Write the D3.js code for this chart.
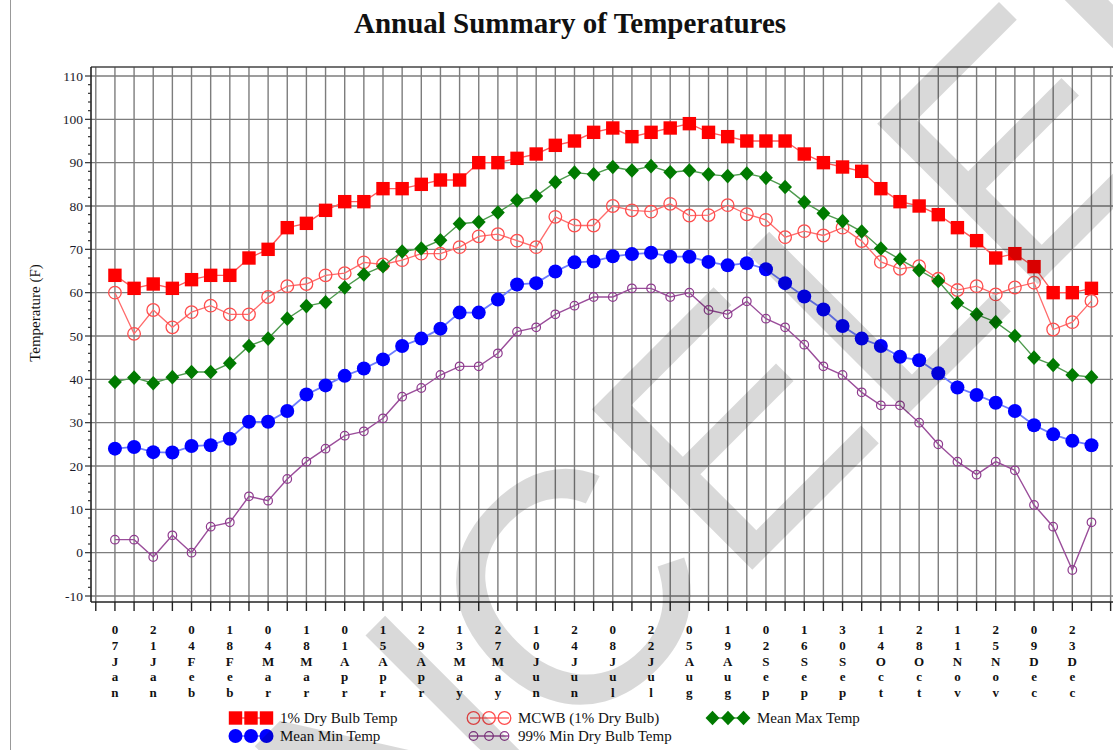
<!DOCTYPE html>
<html><head><meta charset="utf-8">
<script src="https://cdn.jsdelivr.net/npm/d3@7"></script>
<style>body{margin:0;background:#fff} svg{display:block}</style>
</head><body><svg id="c" width="1113" height="750"></svg>
<script>
// ---- data ----
const weeks = ["07Jan","14Jan","21Jan","28Jan","04Feb","11Feb","18Feb","25Feb","04Mar","11Mar","18Mar","25Mar",
  "01Apr","08Apr","15Apr","22Apr","29Apr","06May","13May","20May","27May","03Jun","10Jun","17Jun","24Jun","01Jul",
  "08Jul","15Jul","22Jul","29Jul","05Aug","12Aug","19Aug","26Aug","02Sep","09Sep","16Sep","23Sep","30Sep","07Oct",
  "14Oct","21Oct","28Oct","04Nov","11Nov","18Nov","25Nov","02Dec","09Dec","16Dec","23Dec","30Dec"];
const yTicks = [-10,0,10,20,30,40,50,60,70,80,90,100,110];
const dryBulb1 = [64,61,62,61,63,64,64,68,70,75,76,79,81,81,84,84,85,86,86,90,90,91,92,94,95,97,98,96,97,98,99,97,96,95,95,95,92,90,89,88,84,81,80,78,75,72,68,69,66,60,60,61];
const mcwb = [60,50.5,56,52,55.5,57,55,55,59,61.5,62,64,64.5,67,66.5,67.5,69,69,70.5,73,73.5,72,70.5,77.5,75.5,75.5,80,79,78.7,80.5,77.8,77.9,80.2,78.1,76.8,72.8,74.2,73.2,75,71.9,67.1,65.5,66.1,63.2,60.6,61.5,59.6,61.2,62.3,51.5,53.2,58.1];
const meanMax = [39.4,40.4,39.1,40.5,41.7,41.7,43.7,47.7,49.4,54,56.9,57.8,61.2,64.2,66.1,69.5,70.2,72.1,75.9,76.3,78.5,81.3,82.3,85.5,87.7,87.3,89,88.2,89.2,87.8,88.2,87.3,86.9,87.5,86.5,84.4,80.9,78.3,76.5,74.1,70.2,67.7,65.2,62.7,57.6,55,53.2,50,45,43.3,41,40.5];
const meanMin = [24,24.4,23.2,23.1,24.6,24.8,26.3,30.2,30.2,32.7,36.5,38.6,40.8,42.5,44.6,47.7,49.4,51.7,55.4,55.4,58.4,61.9,62.2,64.9,67,67.2,68.4,68.9,69.2,68.3,68.3,67.1,66.3,66.8,65.4,62.2,59.1,56.1,52.3,49.4,47.7,45.2,44.4,41.4,38.1,36.4,34.6,32.7,29.4,27.3,25.8,24.8];
const minDryBulb99 = [3,3,-1,4,0,6,7,13,12,17,21,24,27,28,31,36,38,41,43,43,46,51,52,55,57,59,59,61,61,59,60,56,55,58,54,52,48,43,41,37,34,34,30,25,21,18,21,19,11,6,-4,7];
const seriesNames = ["1% Dry Bulb Temp","MCWB (1% Dry Bulb)","Mean Max Temp","Mean Min Temp","99% Min Dry Bulb Temp"];
const titleText = "Annual Summary of Temperatures";
const yTitle = "Temperature (F)";
const watermark = "CANCELED";

// ---- layout ----
const svg = d3.select("#c");
const L = 91, T = 67, B = 602, R = 1113;
const x = d3.scalePoint().domain(weeks).range([91, 1115.4]).padding(1.25);
const y = d3.scaleLinear().domain([-10, 110]).range([596, 76]);
const step = x.step();
const tickPos = [x(weeks[0]) - step, ...weeks.map(w => x(w)), x(weeks[weeks.length-1]) + step];
const serif = "'Liberation Serif','Times New Roman',serif";

// page border
svg.append("line").attr("x1",10.5).attr("x2",10.5).attr("y1",0).attr("y2",750).attr("stroke","#999").attr("stroke-width",1);

// title
svg.append("text").attr("x",570).attr("y",33).attr("text-anchor","middle")
  .attr("font-family",serif).attr("font-weight","bold").attr("font-size",29).attr("fill","#111").text(titleText);

// grid
const grid = svg.append("g").attr("stroke","#7d7d7d").attr("stroke-width",1.4);
grid.selectAll("line.v").data(tickPos).join("line").attr("class","v")
  .attr("x1",d=>d).attr("x2",d=>d).attr("y1",T).attr("y2",B);
grid.selectAll("line.h").data(yTicks).join("line").attr("class","h")
  .attr("x1",L).attr("x2",R).attr("y1",d=>y(d)).attr("y2",d=>y(d));

// frame
svg.append("line").attr("x1",L).attr("x2",R).attr("y1",T).attr("y2",T).attr("stroke","#444").attr("stroke-width",1.5);
svg.append("line").attr("x1",L).attr("x2",R).attr("y1",B).attr("y2",B).attr("stroke","#222").attr("stroke-width",1.6);
svg.append("line").attr("x1",L).attr("x2",L).attr("y1",T).attr("y2",B).attr("stroke","#222").attr("stroke-width",1.6);

// y axis ticks
const minor = d3.range(-10, 111, 2);
svg.append("g").attr("stroke","#333").attr("stroke-width",1.2).selectAll("line").data(minor).join("line")
  .attr("x1",d=> d%10===0 ? L-6 : L-3).attr("x2",L).attr("y1",d=>y(d)).attr("y2",d=>y(d));
svg.append("g").selectAll("text").data(yTicks).join("text")
  .attr("x",L-8).attr("y",d=>y(d)).attr("dy","0.35em").attr("text-anchor","end")
  .attr("font-family",serif).attr("font-size",13.5).attr("fill","#1a1a2a").text(d=>d);
svg.append("text").attr("transform","translate(40,313) rotate(-90)").attr("text-anchor","middle")
  .attr("font-family",serif).attr("font-size",15).attr("fill","#111").text(yTitle);

// x axis ticks + stacked labels
svg.append("g").attr("stroke","#222").attr("stroke-width",1.4).selectAll("line").data(tickPos).join("line")
  .attr("x1",d=>d).attr("x2",d=>d).attr("y1",B).attr("y2",611);
const xl = svg.append("g").attr("font-family",serif).attr("font-weight","bold").attr("font-size",13).attr("fill","#111").attr("text-anchor","middle");
weeks.forEach((w,i)=>{
  if (i%2!==0) return;
  const t = xl.append("text").attr("x",x(w)).attr("y",634);
  w.split("").forEach((ch,k)=> t.append("tspan").attr("x",x(w)).attr("y",634+15.8*k).text(ch));
});

// series
const sq = 13.4, dia = 7.3;
const diamondPath = (cx,cy)=>`M${cx},${cy-dia}L${cx+dia*0.95},${cy}L${cx},${cy+dia}L${cx-dia*0.95},${cy}Z`;
const line = d3.line().x((d,i)=>x(weeks[i])).y(d=>y(d));
const g = svg.append("g");
function drawLine(data,color,w){ g.append("path").datum(data).attr("d",line).attr("fill","none").attr("stroke",color).attr("stroke-width",w); }

// 1% dry bulb
drawLine(dryBulb1,"#ff5a5a",1.4);
g.append("g").selectAll("rect").data(dryBulb1).join("rect")
  .attr("x",(d,i)=>x(weeks[i])-sq/2).attr("y",d=>y(d)-sq/2).attr("width",sq).attr("height",sq).attr("fill","#ff0000");
// MCWB
drawLine(mcwb,"#ff6b6b",1.3);
g.append("g").selectAll("circle").data(mcwb).join("circle")
  .attr("cx",(d,i)=>x(weeks[i])).attr("cy",d=>y(d)).attr("r",6.3).attr("fill","none").attr("stroke","#ff4d4d").attr("stroke-width",1.3);
// mean max
drawLine(meanMax,"#4d9a4d",1.4);
g.append("g").selectAll("path").data(meanMax).join("path")
  .attr("d",(d,i)=>diamondPath(x(weeks[i]),y(d))).attr("fill","#007a00");
// mean min
drawLine(meanMin,"#6b7bff",1.8);
g.append("g").selectAll("circle").data(meanMin).join("circle")
  .attr("cx",(d,i)=>x(weeks[i])).attr("cy",d=>y(d)).attr("r",7).attr("fill","#0000ff");
// 99% min
drawLine(minDryBulb99,"#9a4d9a",1.4);
g.append("g").selectAll("circle").data(minDryBulb99).join("circle")
  .attr("cx",(d,i)=>x(weeks[i])).attr("cy",d=>y(d)).attr("r",4.3).attr("fill","none").attr("stroke","#8e3a8e").attr("stroke-width",1.2);

// legend
const lg = svg.append("g").attr("font-family",serif).attr("font-size",15).attr("fill","#111");
const legendItems = [
  {name:seriesNames[0], x:228, y:718, type:"sq", color:"#ff0000", lc:"#ff5a5a"},
  {name:seriesNames[1], x:466, y:718, type:"oc", color:"#ff4d4d", lc:"#ff6b6b"},
  {name:seriesNames[2], x:705, y:718, type:"di", color:"#007a00", lc:"#4d9a4d"},
  {name:seriesNames[3], x:228, y:736, type:"fc", color:"#0000ff", lc:"#6b7bff"},
  {name:seriesNames[4], x:466, y:736, type:"sc", color:"#8e3a8e", lc:"#9a4d9a"}
];
legendItems.forEach(it=>{
  lg.append("line").attr("x1",it.x+4).attr("x2",it.x+43).attr("y1",it.y).attr("y2",it.y).attr("stroke",it.lc).attr("stroke-width",1.4);
  [0,1,2].forEach(k=>{
    const cx = it.x + 7.5 + k*15.5;
    if (it.type==="sq") lg.append("rect").attr("x",cx-sq/2).attr("y",it.y-sq/2).attr("width",sq).attr("height",sq).attr("fill",it.color);
    else if (it.type==="oc") lg.append("circle").attr("cx",cx).attr("cy",it.y).attr("r",6.3).attr("fill","none").attr("stroke",it.color).attr("stroke-width",1.3);
    else if (it.type==="di") lg.append("path").attr("d",diamondPath(cx,it.y)).attr("fill",it.color);
    else if (it.type==="fc") lg.append("circle").attr("cx",cx).attr("cy",it.y).attr("r",7).attr("fill",it.color);
    else lg.append("circle").attr("cx",cx).attr("cy",it.y).attr("r",4.3).attr("fill","none").attr("stroke",it.color).attr("stroke-width",1.2);
  });
  lg.append("text").attr("x",it.x+52).attr("y",it.y).attr("dy","0.35em").text(it.name);
});

// watermark
svg.append("text").attr("transform","translate(72,1250) rotate(-45)")
  .attr("font-family","'Liberation Sans',Arial,sans-serif").attr("font-size",330)
  .attr("fill","#000").attr("fill-opacity",0.15).text(watermark);
</script></body></html>
